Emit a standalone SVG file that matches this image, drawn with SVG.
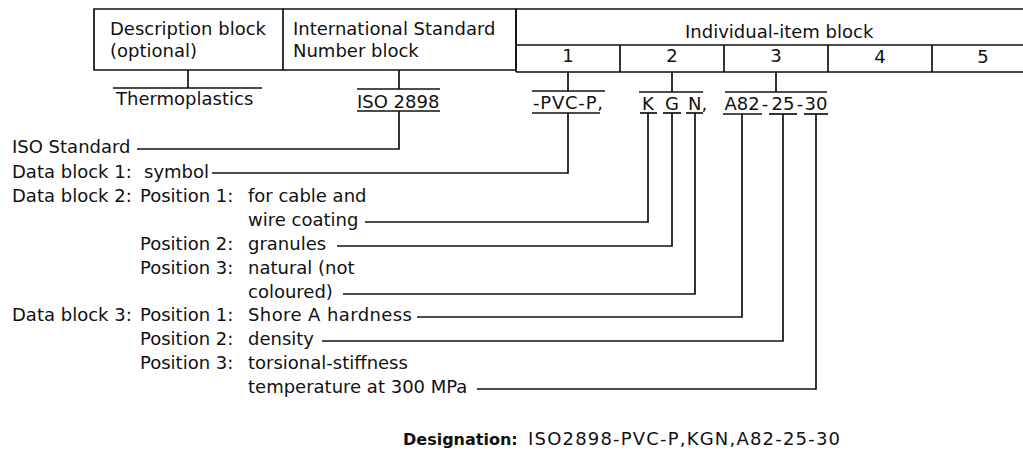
<svg xmlns="http://www.w3.org/2000/svg" width="1023" height="457" viewBox="0 0 1023 457">
<style>
text{font-family:"DejaVu Sans","Liberation Sans",sans-serif;font-size:18px;fill:#111}
.m{text-anchor:middle}
.b{font-weight:bold;font-size:16px}
.ln{stroke:#111;stroke-width:1.7;fill:none}
</style>
<rect width="1023" height="457" fill="#fff"/>
<g id="description-block">
<path class="ln" d="M94,9 H283 V70 H94 Z"/>
<text x="110" y="35">Description block</text>
<text x="110" y="57">(optional)</text>
</g>
<g id="isn-block">
<path class="ln" d="M283,9 H516 V70 H283"/>
<text x="293" y="35">International Standard</text>
<text x="293" y="57">Number block</text>
</g>
<g id="individual-item-block">
<path class="ln" d="M516,9 H1023 M516,9 V72 M516,45 H1023 M516,72 H1023 M620,45 V72 M724,45 V72 M828,45 V72 M932,45 V72"/>
<text x="685" y="38">Individual-item block</text>
<text class="m" x="568" y="62">1</text>
<text class="m" x="672" y="62">2</text>
<text class="m" x="776" y="62">3</text>
<text class="m" x="880" y="63">4</text>
<text class="m" x="983" y="63">5</text>
</g>
<g id="thermoplastics">
<line class="ln" x1="113" y1="88" x2="262" y2="88"/>
<text x="116" y="105">Thermoplastics</text>
</g>
<g id="iso2898">
<line class="ln" x1="357" y1="89" x2="440" y2="89"/>
<text x="357" y="108">ISO 2898</text>
<line class="ln" x1="357" y1="111" x2="440" y2="111"/>
</g>
<g id="pvc-p">
<line class="ln" x1="532" y1="91" x2="605" y2="91"/>
<text x="533" y="109" textLength="70">-PVC-P,</text>
<line class="ln" x1="532" y1="113" x2="600" y2="113"/>
</g>
<g id="kgn">
<line class="ln" x1="639" y1="92" x2="703" y2="92"/>
<text class="m" x="648" y="110">K</text>
<text class="m" x="672" y="110">G</text>
<text x="688" y="110">N,</text>
<line class="ln" x1="640" y1="113" x2="657" y2="113"/>
<line class="ln" x1="663" y1="113" x2="681" y2="113"/>
<line class="ln" x1="686" y1="113" x2="703" y2="113"/>
</g>
<g id="a82-25-30">
<line class="ln" x1="725" y1="92" x2="827" y2="92"/>
<text class="m" x="742" y="110">A82</text>
<text class="m" x="765" y="110">-</text>
<text class="m" x="783" y="110">25</text>
<text class="m" x="800" y="110">-</text>
<text class="m" x="816" y="110">30</text>
<line class="ln" x1="723" y1="114" x2="762" y2="114"/>
<line class="ln" x1="769" y1="114" x2="797" y2="114"/>
<line class="ln" x1="804" y1="114" x2="828" y2="114"/>
</g>
<g id="labels">
<text x="12" y="153">ISO Standard</text>
<text x="12" y="178">Data block 1:</text>
<text x="144" y="178">symbol</text>
<text x="12" y="202">Data block 2:</text>
<text x="140" y="202">Position 1:</text>
<text x="248" y="202">for cable and</text>
<text x="248" y="226">wire coating</text>
<text x="140" y="250">Position 2:</text>
<text x="248" y="250">granules</text>
<text x="140" y="274">Position 3:</text>
<text x="248" y="274">natural (not</text>
<text x="248" y="298">coloured)</text>
<text x="12" y="321">Data block 3:</text>
<text x="140" y="321">Position 1:</text>
<text x="248" y="321" textLength="164">Shore A hardness</text>
<text x="140" y="345">Position 2:</text>
<text x="248" y="345">density</text>
<text x="140" y="369">Position 3:</text>
<text x="248" y="369">torsional-stiffness</text>
<text x="248" y="393">temperature at 300 MPa</text>
</g>
<g id="designation">
<text class="b" x="403" y="445">Designation:</text>
<text x="528" y="445" textLength="312">ISO2898-PVC-P,KGN,A82-25-30</text>
</g>
<g id="connectors">
<line class="ln" x1="188" y1="70" x2="188" y2="88"/>
<line class="ln" x1="399" y1="70" x2="399" y2="89"/>
<line class="ln" x1="568" y1="72" x2="568" y2="91"/>
<line class="ln" x1="672" y1="72" x2="672" y2="92"/>
<line class="ln" x1="776" y1="72" x2="776" y2="92"/>
<path class="ln" d="M399,111 V149 H137"/>
<path class="ln" d="M568,113 V173 H212"/>
<path class="ln" d="M648,113 V222 H365"/>
<path class="ln" d="M672,113 V246 H337"/>
<path class="ln" d="M695,113 V294 H343"/>
<path class="ln" d="M742,114 V317 H417"/>
<path class="ln" d="M783,114 V341 H322"/>
<path class="ln" d="M816,114 V389 H477"/>
</g>
</svg>
